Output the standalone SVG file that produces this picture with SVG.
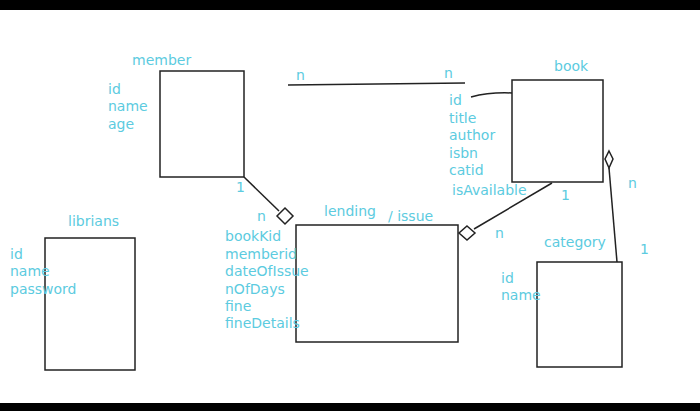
<svg xmlns="http://www.w3.org/2000/svg" width="700" height="411" viewBox="0 0 700 411">
<style>
text{font-family:"DejaVu Sans",Verdana,sans-serif;font-size:14px;fill:#5ccbe0}
.b{fill:#fff;stroke:#222;stroke-width:1.5}
.l{fill:none;stroke:#222;stroke-width:1.5}
</style>
<rect width="700" height="411" fill="#fff"/>
<rect width="700" height="10" fill="#000"/>
<rect y="403" width="700" height="8" fill="#000"/>
<g id="member"><rect class="b" x="160" y="71" width="84" height="106"/>
<text x="132" y="65">member</text><text x="108" y="94">id</text><text x="108" y="111">name</text><text x="108" y="129">age</text></g>
<g id="book"><rect class="b" x="512" y="80" width="91" height="102"/>
<text x="554" y="71">book</text><text x="449" y="105">id</text><text x="449" y="123">title</text><text x="449" y="140">author</text><text x="449" y="158">isbn</text><text x="449" y="175">catid</text><text x="452" y="195">isAvailable</text></g>
<g id="lending"><rect class="b" x="296" y="225" width="162" height="117"/>
<text x="324" y="216">lending</text><text x="388" y="221">/ issue</text>
<text x="225" y="241">bookKid</text><text x="225" y="259">memberid</text><text x="225" y="276">dateOfIssue</text><text x="225" y="294">nOfDays</text><text x="225" y="311">fine</text><text x="225" y="328">fineDetails</text></g>
<g id="librians"><rect class="b" x="45" y="238" width="90" height="132"/>
<text x="68" y="226">librians</text><text x="10" y="259">id</text><text x="10" y="276">name</text><text x="10" y="294">password</text></g>
<g id="category"><rect class="b" x="537" y="262" width="85" height="105"/>
<text x="544" y="247">category</text><text x="501" y="283">id</text><text x="501" y="300">name</text></g>
<g id="connectors">
<path class="l" d="M244 177L279 211"/>
<path class="b" d="M285 208L293 216L285 224L277 216Z"/>
<path class="l" d="M552 183L474 229"/>
<path class="b" d="M467 226L475 233L467 240L459 233Z"/>
<path class="l" d="M609 168L617 262"/>
<path class="b" d="M609 151L613 159L609 168L605 159Z"/>
<path class="l" d="M288 85L465 83"/>
<path class="l" d="M471 97Q490 92 512 93"/>
<text x="236" y="192">1</text><text x="257" y="221">n</text>
<text x="495" y="238">n</text><text x="561" y="200">1</text>
<text x="628" y="188">n</text><text x="640" y="254">1</text>
<text x="296" y="80">n</text><text x="444" y="78">n</text>
</g>
</svg>
